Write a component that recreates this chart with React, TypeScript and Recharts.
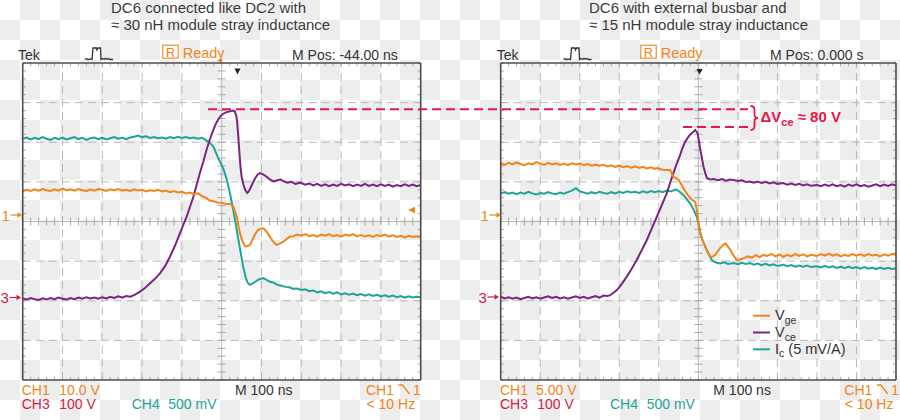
import React from 'react';
import { ComposedChart, Line, XAxis, YAxis, ReferenceLine, Legend } from 'recharts';

type Pt = [number, number];

// x: divisions (100 ns/div), y: divisions from the bottom of the screen
const vgeLeft: Pt[] = [
  [0.0, 4.76], [0.1, 4.8], [0.2, 4.77], [0.3, 4.81], [0.4, 4.78], [0.5, 4.82], [0.6, 4.79], [0.7, 4.77], [0.8, 4.81], [0.9, 4.78],
  [1.0, 4.83], [1.1, 4.79], [1.2, 4.81], [1.3, 4.78], [1.4, 4.82], [1.5, 4.79], [1.6, 4.77], [1.7, 4.81], [1.8, 4.78], [1.9, 4.82],
  [2.0, 4.8], [2.1, 4.77], [2.2, 4.81], [2.3, 4.79], [2.4, 4.82], [2.5, 4.78], [2.6, 4.8], [2.7, 4.77], [2.8, 4.81], [2.9, 4.78],
  [3.0, 4.8], [3.1, 4.76], [3.2, 4.79], [3.3, 4.77], [3.4, 4.8], [3.5, 4.76], [3.6, 4.78], [3.7, 4.74], [3.8, 4.77], [3.9, 4.73],
  [4.0, 4.75], [4.1, 4.71], [4.2, 4.73], [4.3, 4.69], [4.4, 4.71], [4.5, 4.64], [4.6, 4.6], [4.7, 4.53], [4.8, 4.51], [4.9, 4.48],
  [5.0, 4.47], [5.1, 4.45], [5.21, 4.44], [5.29, 4.38], [5.34, 4.24], [5.38, 4.12], [5.42, 3.9], [5.46, 3.7], [5.52, 3.5], [5.59, 3.37],
  [5.65, 3.38], [5.71, 3.41], [5.79, 3.58], [5.85, 3.7], [5.92, 3.79], [5.98, 3.82], [6.05, 3.83], [6.13, 3.74], [6.2, 3.63], [6.26, 3.54],
  [6.32, 3.46], [6.38, 3.41], [6.46, 3.44], [6.55, 3.49], [6.63, 3.56], [6.72, 3.62], [6.8, 3.63], [6.9, 3.67], [7.0, 3.64], [7.1, 3.68],
  [7.2, 3.63], [7.3, 3.66], [7.4, 3.62], [7.5, 3.67], [7.6, 3.64], [7.7, 3.68], [7.8, 3.63], [7.9, 3.66], [8.0, 3.62], [8.1, 3.67],
  [8.2, 3.64], [8.3, 3.68], [8.4, 3.63], [8.5, 3.66], [8.6, 3.62], [8.7, 3.65], [8.8, 3.61], [8.9, 3.66], [9.0, 3.63], [9.1, 3.67],
  [9.2, 3.62], [9.3, 3.65], [9.4, 3.61], [9.5, 3.64], [9.6, 3.6], [9.7, 3.64], [9.8, 3.61], [9.9, 3.63], [10.0, 3.62],
];

const vceLeft: Pt[] = [
  [0.0, 2.06], [0.1, 2.03], [0.2, 2.07], [0.3, 2.04], [0.4, 2.02], [0.5, 2.06], [0.6, 2.03], [0.7, 2.07], [0.8, 2.04], [0.9, 2.08],
  [1.0, 2.05], [1.1, 2.03], [1.2, 2.07], [1.3, 2.04], [1.4, 2.08], [1.5, 2.05], [1.6, 2.09], [1.7, 2.06], [1.8, 2.08], [1.9, 2.05],
  [2.0, 2.09], [2.1, 2.06], [2.2, 2.1], [2.3, 2.07], [2.4, 2.11], [2.5, 2.08], [2.6, 2.12], [2.7, 2.1], [2.8, 2.14], [2.95, 2.23],
  [3.08, 2.33], [3.2, 2.44], [3.33, 2.56], [3.45, 2.69], [3.58, 2.88], [3.7, 3.11], [3.83, 3.4], [3.95, 3.7], [4.03, 3.9], [4.12, 4.12],
  [4.2, 4.36], [4.29, 4.63], [4.37, 4.92], [4.45, 5.22], [4.54, 5.52], [4.62, 5.81], [4.7, 6.07], [4.79, 6.31], [4.85, 6.46], [4.91, 6.57],
  [4.97, 6.66], [5.04, 6.72], [5.12, 6.76], [5.21, 6.78], [5.28, 6.8], [5.33, 6.78], [5.37, 6.65], [5.39, 6.5], [5.42, 6.1], [5.44, 5.81],
  [5.47, 5.4], [5.5, 5.13], [5.55, 4.92], [5.59, 4.8], [5.64, 4.72], [5.68, 4.76], [5.71, 4.82], [5.78, 4.97], [5.84, 5.09], [5.9, 5.18],
  [5.96, 5.22], [6.04, 5.19], [6.13, 5.13], [6.21, 5.06], [6.3, 5.01], [6.4, 5.04], [6.48, 5.06], [6.55, 5.02], [6.65, 4.98], [6.75, 5.0],
  [6.85, 4.95], [6.97, 4.98], [7.1, 4.93], [7.2, 4.96], [7.3, 4.91], [7.4, 4.95], [7.5, 4.9], [7.6, 4.94], [7.7, 4.89], [7.8, 4.93],
  [7.9, 4.9], [8.0, 4.95], [8.1, 4.91], [8.2, 4.94], [8.3, 4.89], [8.4, 4.93], [8.5, 4.9], [8.6, 4.95], [8.7, 4.9], [8.8, 4.93],
  [8.9, 4.89], [9.0, 4.94], [9.1, 4.9], [9.2, 4.93], [9.3, 4.88], [9.4, 4.92], [9.5, 4.89], [9.6, 4.94], [9.7, 4.9], [9.8, 4.93],
  [9.9, 4.89], [10.0, 4.92],
];

const icLeft: Pt[] = [
  [0.0, 6.09], [0.1, 6.12], [0.2, 6.07], [0.3, 6.11], [0.4, 6.08], [0.5, 6.13], [0.6, 6.09], [0.7, 6.06], [0.8, 6.11], [0.9, 6.08],
  [1.0, 6.12], [1.1, 6.07], [1.2, 6.1], [1.3, 6.13], [1.4, 6.08], [1.5, 6.11], [1.6, 6.06], [1.7, 6.1], [1.8, 6.12], [1.9, 6.08],
  [2.0, 6.11], [2.1, 6.07], [2.2, 6.1], [2.3, 6.13], [2.4, 6.09], [2.5, 6.11], [2.6, 6.08], [2.7, 6.12], [2.8, 6.14], [2.9, 6.17],
  [3.0, 6.13], [3.1, 6.15], [3.2, 6.11], [3.3, 6.13], [3.4, 6.1], [3.5, 6.12], [3.6, 6.09], [3.7, 6.13], [3.8, 6.1], [3.9, 6.14],
  [4.0, 6.11], [4.1, 6.13], [4.2, 6.1], [4.3, 6.12], [4.4, 6.09], [4.5, 6.11], [4.6, 6.06], [4.7, 5.98], [4.79, 5.89], [4.85, 5.75],
  [4.91, 5.6], [5.0, 5.43], [5.06, 5.28], [5.13, 5.05], [5.21, 4.7], [5.29, 4.29], [5.36, 3.9], [5.42, 3.54], [5.48, 3.2], [5.54, 2.86],
  [5.6, 2.6], [5.65, 2.46], [5.71, 2.4], [5.77, 2.43], [5.84, 2.48], [5.92, 2.53], [6.0, 2.56], [6.05, 2.57], [6.12, 2.53], [6.21, 2.48],
  [6.3, 2.46], [6.4, 2.4], [6.5, 2.38], [6.6, 2.35], [6.7, 2.34], [6.8, 2.3], [6.9, 2.31], [7.0, 2.27], [7.1, 2.29], [7.2, 2.24],
  [7.3, 2.26], [7.4, 2.21], [7.5, 2.24], [7.6, 2.19], [7.7, 2.22], [7.8, 2.18], [7.9, 2.21], [8.0, 2.16], [8.1, 2.19], [8.2, 2.15],
  [8.3, 2.18], [8.4, 2.14], [8.5, 2.17], [8.6, 2.13], [8.7, 2.16], [8.8, 2.12], [8.9, 2.15], [9.0, 2.11], [9.1, 2.14], [9.2, 2.1],
  [9.3, 2.13], [9.4, 2.09], [9.5, 2.12], [9.6, 2.08], [9.7, 2.11], [9.8, 2.08], [9.9, 2.1], [10.0, 2.09],
];

const vgeRight: Pt[] = [
  [0.0, 5.47], [0.1, 5.43], [0.2, 5.48], [0.3, 5.44], [0.4, 5.49], [0.5, 5.45], [0.6, 5.42], [0.7, 5.47], [0.8, 5.44], [0.9, 5.5],
  [1.0, 5.46], [1.1, 5.43], [1.2, 5.48], [1.3, 5.44], [1.4, 5.47], [1.5, 5.43], [1.6, 5.46], [1.7, 5.42], [1.8, 5.47], [1.9, 5.44],
  [2.0, 5.46], [2.1, 5.42], [2.2, 5.45], [2.3, 5.41], [2.4, 5.44], [2.5, 5.41], [2.6, 5.43], [2.7, 5.39], [2.8, 5.42], [2.9, 5.38],
  [3.0, 5.41], [3.1, 5.37], [3.2, 5.4], [3.3, 5.36], [3.4, 5.39], [3.5, 5.35], [3.6, 5.38], [3.7, 5.34], [3.8, 5.37], [3.9, 5.33],
  [3.95, 5.35], [4.05, 5.32], [4.15, 5.3], [4.29, 5.3], [4.33, 5.2], [4.37, 5.13], [4.44, 5.09], [4.5, 5.05], [4.56, 4.95], [4.62, 4.84],
  [4.7, 4.72], [4.79, 4.59], [4.86, 4.53], [4.92, 4.5], [4.96, 4.29], [5.0, 4.0], [5.05, 3.7], [5.11, 3.52], [5.17, 3.37], [5.24, 3.22],
  [5.3, 3.11], [5.37, 3.12], [5.43, 3.16], [5.49, 3.25], [5.55, 3.33], [5.62, 3.4], [5.68, 3.45], [5.74, 3.38], [5.81, 3.28], [5.89, 3.14],
  [5.97, 3.03], [6.05, 3.04], [6.14, 3.07], [6.25, 3.12], [6.35, 3.09], [6.45, 3.15], [6.55, 3.1], [6.65, 3.16], [6.73, 3.13], [6.85, 3.18],
  [6.95, 3.12], [7.05, 3.17], [7.15, 3.11], [7.25, 3.16], [7.35, 3.12], [7.45, 3.18], [7.55, 3.13], [7.65, 3.17], [7.75, 3.12], [7.85, 3.16],
  [8.0, 3.13], [8.1, 3.18], [8.2, 3.14], [8.3, 3.19], [8.4, 3.14], [8.5, 3.17], [8.6, 3.12], [8.7, 3.16], [8.8, 3.13], [8.9, 3.18],
  [9.0, 3.14], [9.1, 3.17], [9.2, 3.13], [9.3, 3.18], [9.4, 3.14], [9.5, 3.16], [9.6, 3.12], [9.7, 3.17], [9.8, 3.14], [9.9, 3.18],
  [10.0, 3.16],
];

const vceRight: Pt[] = [
  [0.0, 2.1], [0.1, 2.06], [0.2, 2.09], [0.3, 2.05], [0.4, 2.08], [0.5, 2.04], [0.6, 2.07], [0.7, 2.1], [0.8, 2.06], [0.9, 2.09],
  [1.0, 2.05], [1.1, 2.08], [1.2, 2.11], [1.3, 2.07], [1.4, 2.1], [1.5, 2.06], [1.6, 2.09], [1.7, 2.05], [1.8, 2.08], [1.9, 2.11],
  [2.0, 2.07], [2.1, 2.1], [2.2, 2.06], [2.3, 2.09], [2.4, 2.12], [2.5, 2.08], [2.6, 2.13], [2.7, 2.12], [2.77, 2.14], [2.85, 2.2],
  [2.94, 2.27], [3.06, 2.42], [3.19, 2.61], [3.31, 2.8], [3.44, 3.03], [3.57, 3.28], [3.7, 3.54], [3.82, 3.82], [3.95, 4.12], [4.07, 4.4],
  [4.2, 4.71], [4.28, 4.96], [4.37, 5.22], [4.45, 5.45], [4.54, 5.68], [4.6, 5.86], [4.67, 6.02], [4.73, 6.11], [4.79, 6.19], [4.86, 6.25],
  [4.92, 6.31], [4.98, 6.23], [5.02, 6.0], [5.05, 5.81], [5.09, 5.6], [5.13, 5.39], [5.18, 5.2], [5.22, 5.09], [5.3, 5.06], [5.38, 5.07],
  [5.5, 5.04], [5.6, 5.07], [5.7, 5.03], [5.8, 5.06], [5.89, 5.05], [6.0, 5.02], [6.1, 5.04], [6.2, 5.0], [6.31, 5.01], [6.4, 4.98],
  [6.5, 5.01], [6.6, 4.97], [6.7, 5.0], [6.8, 4.96], [6.9, 4.99], [7.0, 4.95], [7.15, 4.97], [7.25, 4.93], [7.35, 4.96], [7.45, 4.92],
  [7.55, 4.95], [7.65, 4.91], [7.75, 4.94], [7.85, 4.9], [8.0, 4.92], [8.1, 4.89], [8.2, 4.93], [8.3, 4.9], [8.4, 4.94], [8.5, 4.89],
  [8.6, 4.92], [8.7, 4.88], [8.8, 4.93], [8.9, 4.9], [9.0, 4.94], [9.1, 4.89], [9.2, 4.92], [9.3, 4.88], [9.4, 4.91], [9.5, 4.94],
  [9.6, 4.89], [9.7, 4.93], [9.8, 4.9], [9.9, 4.94], [10.0, 4.91],
];

const icRight: Pt[] = [
  [0.0, 4.71], [0.1, 4.74], [0.2, 4.7], [0.3, 4.73], [0.4, 4.69], [0.5, 4.73], [0.6, 4.7], [0.7, 4.75], [0.8, 4.71], [0.9, 4.68],
  [1.0, 4.72], [1.1, 4.7], [1.2, 4.74], [1.3, 4.71], [1.4, 4.69], [1.5, 4.73], [1.6, 4.7], [1.7, 4.74], [1.8, 4.78], [1.9, 4.84],
  [2.0, 4.76], [2.1, 4.73], [2.2, 4.7], [2.3, 4.74], [2.4, 4.71], [2.5, 4.75], [2.6, 4.72], [2.7, 4.7], [2.8, 4.74], [2.9, 4.71],
  [3.0, 4.75], [3.1, 4.72], [3.2, 4.76], [3.3, 4.73], [3.4, 4.75], [3.5, 4.72], [3.6, 4.76], [3.7, 4.73], [3.8, 4.77], [3.9, 4.74],
  [4.0, 4.77], [4.1, 4.74], [4.2, 4.78], [4.3, 4.76], [4.4, 4.8], [4.46, 4.8], [4.54, 4.74], [4.62, 4.67], [4.7, 4.57], [4.79, 4.46],
  [4.88, 4.3], [4.96, 4.12], [5.0, 3.95], [5.05, 3.7], [5.11, 3.52], [5.17, 3.37], [5.25, 3.2], [5.34, 3.03], [5.4, 2.98], [5.47, 2.96],
  [5.55, 2.94], [5.65, 2.97], [5.75, 2.93], [5.89, 2.95], [6.0, 2.92], [6.1, 2.96], [6.2, 2.93], [6.31, 2.95], [6.4, 2.91], [6.5, 2.94],
  [6.6, 2.9], [6.7, 2.93], [6.8, 2.89], [6.9, 2.92], [7.0, 2.88], [7.15, 2.91], [7.25, 2.87], [7.35, 2.9], [7.45, 2.86], [7.55, 2.89],
  [7.65, 2.86], [7.75, 2.89], [7.85, 2.85], [8.0, 2.87], [8.1, 2.84], [8.2, 2.88], [8.3, 2.84], [8.4, 2.87], [8.5, 2.83], [8.6, 2.86],
  [8.7, 2.82], [8.8, 2.86], [8.9, 2.82], [9.0, 2.85], [9.1, 2.81], [9.2, 2.85], [9.3, 2.81], [9.4, 2.84], [9.5, 2.8], [9.6, 2.84],
  [9.7, 2.8], [9.8, 2.83], [9.9, 2.8], [10.0, 2.82],
];

const gridX = [1, 2, 3, 4, 6, 7, 8, 9];
const gridY = [1, 2, 3, 5, 6, 7];
const minorX = Array.from({ length: 51 }, (_, i) => Math.round(i * 2) / 10);
const minorY = Array.from({ length: 41 }, (_, i) => Math.round(i * 2) / 10);

const seriesNames = ['V_ge', 'V_ce', 'I_c (5 mV/A)'];

const ORANGE = '#f08519';
const PURPLE = '#7b2480';
const TEAL = '#1fa597';
const CRIMSON = '#d41c45';
const RED = '#e8174a';
const TXT = '#333333';
const GRID = '#b9b9b9';
const TICK = '#a9a9a9';
const FRAME = '#4d4d4d';
const FONT = '"Liberation Sans", Arial, Helvetica, sans-serif';

const toData = (pts: Pt[]) => pts.map(([t, v]) => ({ t, v }));

function LegendContent(props: any) {
  const payload: any[] = props.payload || [];
  const ordered = seriesNames
    .map((n) => payload.find((p) => p.value === n))
    .filter(Boolean);
  const rowY = [9.7, 26.5, 43.3];
  return (
    <svg width={110} height={54} style={{ overflow: 'visible', display: 'block' }}>
      {ordered.map((p: any, i: number) => {
        const [base, restAll] = String(p.value).split('_');
        const sp = restAll.indexOf(' ');
        const sub = sp >= 0 ? restAll.slice(0, sp) : restAll;
        const rest = sp >= 0 ? restAll.slice(sp) : '';
        return (
          <g key={p.value}>
            <line x1={1} x2={18} y1={rowY[i]} y2={rowY[i]} stroke={p.color} strokeWidth={2} />
            <text x={23} y={rowY[i] + 4.5} fontSize={14.5} fill={TXT} fontFamily={FONT}>
              {base}
              <tspan fontSize={10.5} dy={3.5}>{sub}</tspan>
              {rest ? <tspan dy={-3.5}>{rest}</tspan> : null}
            </text>
          </g>
        );
      })}
    </svg>
  );
}

function Scope(props: {
  left: number;
  margin: { top: number; left: number; right: number; bottom: number };
  vge: Pt[];
  vce: Pt[];
  ic: Pt[];
  legend?: boolean;
}) {
  const { left, margin, vge, vce, ic, legend } = props;
  return (
    <div style={{ position: 'absolute', left, top: 0, width: 450, height: 420 }}>
      <ComposedChart width={450} height={420} margin={margin}>
        <XAxis type="number" dataKey="t" domain={[0, 10]} hide allowDataOverflow />
        <YAxis type="number" domain={[0, 8]} hide allowDataOverflow />
        {gridX.map((x) => (
          <ReferenceLine key={'gx' + x} x={x} stroke={GRID} strokeWidth={1} strokeDasharray="8 5" />
        ))}
        {gridY.map((y) => (
          <ReferenceLine key={'gy' + y} y={y} stroke={GRID} strokeWidth={1} strokeDasharray="8 5" />
        ))}
        <ReferenceLine x={5} stroke={GRID} strokeWidth={1} />
        <ReferenceLine y={4} stroke={GRID} strokeWidth={1} />
        {minorX.map((t) => (
          <ReferenceLine key={'cx' + t} segment={[{ x: t, y: 3.9 }, { x: t, y: 4.1 }]} stroke={TICK} strokeWidth={1} />
        ))}
        {minorY.map((t) => (
          <ReferenceLine key={'cy' + t} segment={[{ x: 4.9, y: t }, { x: 5.1, y: t }]} stroke={TICK} strokeWidth={1} />
        ))}
        {minorX.map((t) => (
          <ReferenceLine key={'tx' + t} segment={[{ x: t, y: 8 }, { x: t, y: 7.92 }]} stroke={TICK} strokeWidth={1} />
        ))}
        {minorX.map((t) => (
          <ReferenceLine key={'bx' + t} segment={[{ x: t, y: 0 }, { x: t, y: 0.08 }]} stroke={TICK} strokeWidth={1} />
        ))}
        {minorY.map((t) => (
          <ReferenceLine key={'ly' + t} segment={[{ x: 0, y: t }, { x: 0.08, y: t }]} stroke={TICK} strokeWidth={1} />
        ))}
        {minorY.map((t) => (
          <ReferenceLine key={'ry' + t} segment={[{ x: 10, y: t }, { x: 9.92, y: t }]} stroke={TICK} strokeWidth={1} />
        ))}
        <Line data={toData(ic)} dataKey="v" name={seriesNames[2]} type="linear" stroke={TEAL} strokeWidth={2} dot={false} isAnimationActive={false} />
        <Line data={toData(vce)} dataKey="v" name={seriesNames[1]} type="linear" stroke={PURPLE} strokeWidth={2} dot={false} isAnimationActive={false} />
        <Line data={toData(vge)} dataKey="v" name={seriesNames[0]} type="linear" stroke={ORANGE} strokeWidth={2} dot={false} isAnimationActive={false} />
        <ReferenceLine x={0} stroke={FRAME} strokeWidth={1.6} />
        <ReferenceLine x={10} stroke={FRAME} strokeWidth={1.6} />
        <ReferenceLine y={0} stroke={FRAME} strokeWidth={1.6} />
        <ReferenceLine y={8} stroke={FRAME} strokeWidth={1.6} />
        {legend ? (
          <Legend
            layout="vertical"
            align="center"
            verticalAlign="middle"
            content={LegendContent}
            wrapperStyle={{ position: 'absolute', left: 302, top: 306, width: 110, height: 54 }}
          />
        ) : null}
      </ComposedChart>
    </div>
  );
}

function TrigIcon({ x }: { x: number }) {
  const d = `M${x} 59.5 l1.5 -1 l1.5 1.2 l1.5 -0.8 L${x + 7} 59.5 L${x + 8} 48 L${x + 11.5} 48 L${x + 12} 50 L${x + 13} 48 L${x + 15.5} 48 L${x + 16} 59.5 l1.5 -1 l1.5 1 l1.5 -1.2 l1.5 1 l1.5 -0.8 l1.5 1 L${x + 28} 59.5`;
  return <path d={d} fill="none" stroke={TXT} strokeWidth={1.3} />;
}

function FallEdge({ x, y }: { x: number; y: number }) {
  return <path d={`M${x} ${y - 9} H${x + 4} L${x + 11} ${y}`} fill="none" stroke={ORANGE} strokeWidth={1.3} />;
}

function ScopeText(props: {
  ox: number;
  tekX: number;
  iconX: number;
  rX: number;
  readyX: number;
  mposX: number;
  mpos: string;
  ch1X: number;
  ch1Val: string;
  ch1ValX: number;
  ch3ValX: number;
  ch4X: number;
  ch4ValX: number;
  mX: number;
  trgX: number;
}) {
  const p = props;
  const base1 = 394.5;
  const base2 = 409.3;
  return (
    <g fontFamily={FONT}>
      <text x={p.tekX} y={59.5} fontSize={14} fill={TXT}>Tek</text>
      <TrigIcon x={p.iconX} />
      <rect x={p.rX} y={45.2} width={15.4} height={13} fill="none" stroke={ORANGE} strokeWidth={1.1} />
      <text x={p.rX + 7.7} y={56.5} fontSize={13} fill={ORANGE} textAnchor="middle">R</text>
      <text x={p.readyX} y={57.5} fontSize={14.5} fill={ORANGE}>Ready</text>
      <text x={p.mposX} y={59.5} fontSize={14} fill={TXT}>{p.mpos}</text>
      <text x={p.ch1X} y={base1} fontSize={14} fill={ORANGE}>CH1</text>
      <text x={p.ch1ValX} y={base1} fontSize={14} fill={ORANGE}>{p.ch1Val}</text>
      <text x={p.ch1X} y={base2} fontSize={14} fill={CRIMSON}>CH3</text>
      <text x={p.ch3ValX} y={base2} fontSize={14} fill={CRIMSON}>100 V</text>
      <text x={p.ch4X} y={base2} fontSize={14} fill={TEAL}>CH4</text>
      <text x={p.ch4ValX} y={base2} fontSize={14} fill={TEAL}>500 mV</text>
      <text x={p.mX} y={base1} fontSize={14} fill={TXT}>M 100 ns</text>
      <text x={p.trgX} y={base1} fontSize={14} fill={ORANGE}>CH1</text>
      <FallEdge x={p.trgX + 32.5} y={base1 - 0.5} />
      <text x={p.trgX + 47} y={base1} fontSize={14} fill={ORANGE}>1</text>
      <text x={p.trgX + 0.5} y={base2} fontSize={14} fill={ORANGE}>&lt; 10 Hz</text>
    </g>
  );
}

function Marker({ x, y, label, color }: { x: number; y: number; label: string; color: string }) {
  return (
    <g fontFamily={FONT}>
      <text x={x} y={y + 5.5} fontSize={15} fill={color}>{label}</text>
      <line x1={x + 9} x2={x + 17} y1={y} y2={y} stroke={color} strokeWidth={1.2} />
      <path d={`M${x + 16} ${y - 2.8} L${x + 20.5} ${y} L${x + 16} ${y + 2.8} Z`} fill={color} />
    </g>
  );
}

function Overlay() {
  return (
    <svg width={900} height={420} style={{ position: 'absolute', left: 0, top: 0, pointerEvents: 'none' }}>
      <g fontFamily={FONT} fontSize={15} fill="#3a3a3a">
        <text x={111} y={13}>DC6 connected like DC2 with</text>
        <text x={111} y={29.5}>≈ 30 nH module stray inductance</text>
        <text x={589} y={13}>DC6 with external busbar and</text>
        <text x={589} y={29.5}>≈ 15 nH module stray inductance</text>
      </g>
      <ScopeText
        ox={0} tekX={18} iconX={85} rX={162.8} readyX={182.7} mposX={292} mpos="M Pos: -44.00 ns"
        ch1X={21.7} ch1Val="10.0 V" ch1ValX={59.3} ch3ValX={59.3} ch4X={131.7} ch4ValX={168.3} mX={235} trgX={366}
      />
      <ScopeText
        ox={450} tekX={496.7} iconX={563.5} rX={640.8} readyX={660.7} mposX={770} mpos="M Pos: 0.000 s"
        ch1X={500} ch1Val="5.00 V" ch1ValX={536} ch3ValX={537.3} ch4X={610} ch4ValX={646.7} mX={713.3} trgX={844.3}
      />
      {/* trigger position markers */}
      <path d="M234.5 68.5 L240.5 68.5 L237.5 74.5 Z" fill="#222" />
      <path d="M696.5 69 L702.5 69 L699.5 74.5 Z" fill="#222" />
      <rect x={219.2} y={59} width={3} height={3} fill={ORANGE} />
      {/* ground / level markers */}
      <Marker x={1.5} y={215} label="1" color={ORANGE} />
      <Marker x={0.5} y={297.5} label="3" color={CRIMSON} />
      <Marker x={480.5} y={215} label="1" color={ORANGE} />
      <Marker x={478.5} y={297} label="3" color={CRIMSON} />
      <path d="M408 210 L415 206.8 L415 213.2 Z" fill={ORANGE} />
      {/* Delta Vce annotation */}
      <line x1={208} x2={748} y1={109.2} y2={109.2} stroke={RED} strokeWidth={2} strokeDasharray="9 5" />
      <line x1={683} x2={748} y1={127} y2={127} stroke={RED} strokeWidth={2} strokeDasharray="9 5" />
      <path
        d="M750.5 106 Q754.5 106 754.5 110 L754.5 114.5 Q754.5 118 758 118 Q754.5 118 754.5 121.5 L754.5 126 Q754.5 130 750.5 130"
        fill="none"
        stroke={RED}
        strokeWidth={1.8}
      />
      <text x={760.5} y={122.3} fontFamily={FONT} fontSize={15} fontWeight="bold" fill={RED}>
        ΔV<tspan fontSize={11} dy={3.4}>ce</tspan>
        <tspan dy={-3.4}> ≈ 80 V</tspan>
      </text>
    </svg>
  );
}

export default function App() {
  return (
    <div
      style={{
        position: 'absolute',
        left: 0,
        top: 0,
        width: 900,
        height: 420,
        overflow: 'hidden',
        backgroundColor: '#ffffff',
        backgroundImage: 'repeating-conic-gradient(#ededed 0% 25%, #ffffff 0% 50%)',
        backgroundSize: '40px 40px',
      }}
    >
      <Scope left={0} margin={{ top: 63, left: 22.7, right: 29.3, bottom: 40 }} vge={vgeLeft} vce={vceLeft} ic={icLeft} />
      <Scope left={450} margin={{ top: 63, left: 50.7, right: 4, bottom: 40 }} vge={vgeRight} vce={vceRight} ic={icRight} legend />
      <Overlay />
    </div>
  );
}
